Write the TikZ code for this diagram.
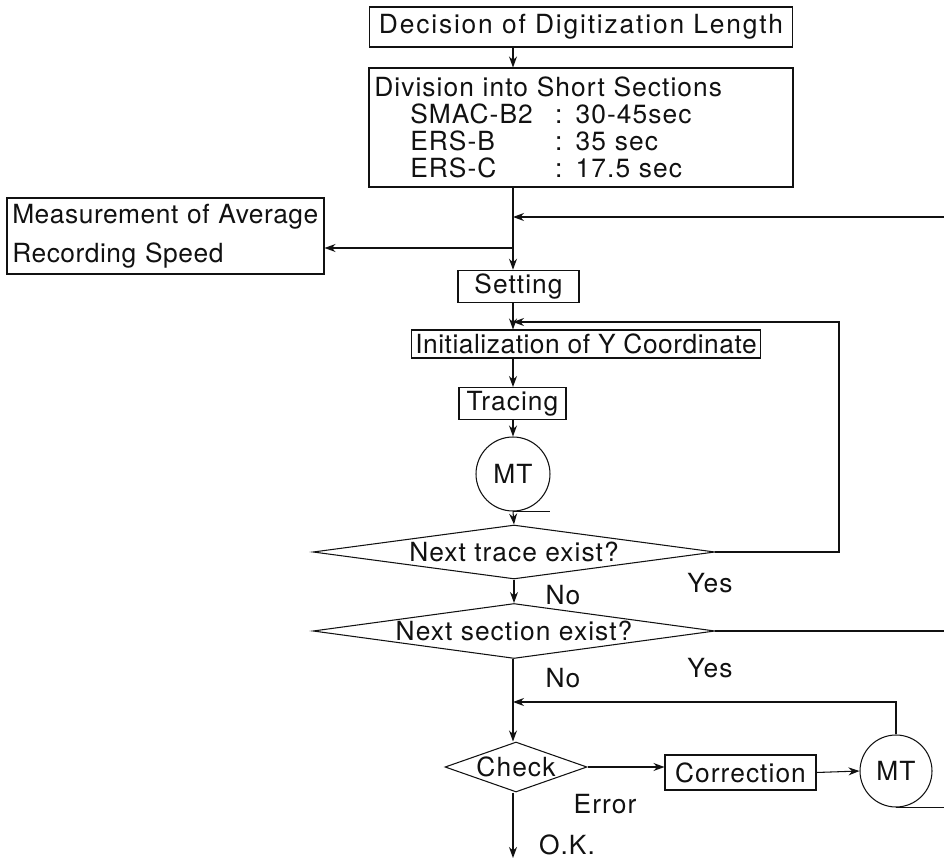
\documentclass[tikz,border=0pt]{standalone}
\usepackage{fontspec}
\setmainfont{TeX Gyre Heros}[LetterSpace=4]
\usepackage{tikz}
\usetikzlibrary{arrows.meta,positioning,shapes,calc}
\definecolor{ink}{HTML}{111111}
\newcommand{\flowfont}{\fontsize{15}{15.5}\selectfont}
\tikzset{
  procbox/.style ={draw=ink, line width=0.6pt, inner sep=2pt,
                   align=center, font=\flowfont, text=ink},
  textbox/.style ={draw=ink, line width=0.6pt, inner xsep=3pt, inner ysep=3pt,
                   align=left, font=\flowfont, text=ink},
  decbox/.style  ={draw=ink, line width=0.6pt, diamond, aspect=7.4,
                   inner sep=0pt, font=\flowfont, text=ink},
  tapebox/.style ={draw=ink, line width=0.6pt, circle, inner sep=0pt,
                   font=\flowfont, text=ink},
  flowarr/.style ={-{Stealth[length=2.2mm,width=1.6mm]}, line width=0.6pt, draw=ink},
  flowline/.style={line width=0.6pt, draw=ink},
  lbl/.style     ={font=\flowfont, text=ink, inner sep=0pt},
}

\begin{document}
\begin{tikzpicture}[x=0.02cm,y=-0.02cm]
    \useasboundingbox (0,0) rectangle (944,858);
    \coordinate (spine) at (513,0);

    \node[procbox,minimum width=8.48cm,minimum height=0.8cm,
          font=\flowfont\addfontfeatures{LetterSpace=7}] (decide) at (581,27) {Decision of Digitization Length};
    \node[textbox,text width=8.27cm,minimum height=2.38cm] (divide) at (581,127.5)
      {Division into Short Sections\\
       \hspace*{0.72cm}\makebox[2.9cm][l]{SMAC-B2}: 30-45sec\\
       \hspace*{0.72cm}\makebox[2.9cm][l]{ERS-B}: 35 sec\\
       \hspace*{0.72cm}\makebox[2.9cm][l]{ERS-C}: 17.5 sec};
    \node[textbox,text width=6.13cm,minimum height=1.52cm,
          font=\flowfont\addfontfeatures{LetterSpace=2}] (measure) at (165.5,236)
      {\mbox{Measurement of Average}\\[7pt]Recording Speed};
    \node[procbox,minimum width=2.42cm,minimum height=0.58cm] (setting) at (518.5,286.5) {Setting};
    \node[procbox,minimum width=6.72cm,minimum height=0.56cm,
          font=\flowfont\addfontfeatures{LetterSpace=2}] (init) at (586,344) {Initialization of Y Coordinate};
    \node[procbox,minimum width=2.14cm,minimum height=0.62cm] (tracing) at (512.5,403.5) {Tracing};
    \node[tapebox,minimum size=1.48cm] (mt1) at (513,474) {MT};
    \node[decbox,minimum width=8.04cm,minimum height=1.08cm] (trace) at (514,552) {Next trace exist?};
    \node[decbox,minimum width=8.04cm,minimum height=1.1cm] (section) at (514,631) {Next section exist?};
    \node[decbox,aspect=2.8,minimum width=2.84cm,minimum height=1.0cm] (check) at (516,767) {Check};
    \node[procbox,minimum width=3.02cm,minimum height=0.7cm] (correct) at (740.5,772.5) {Correction};
    \node[tapebox,minimum size=1.44cm] (mt2) at (896,771) {MT};

    % free ends and corners
    \coordinate (split) at (513,248);
    \coordinate (backin) at (944,217);
    \coordinate (loopin) at (513,322);
    \coordinate (loopright) at (839,552);
    \coordinate (backout) at (944,631);
    \coordinate (join) at (513,702);
    \coordinate (okout) at (513,858);

    \draw[flowarr] (decide.south -| spine) -- (divide.north -| spine);
    \draw[flowarr] (divide.south -| spine) -- (setting.north -| spine);
    \draw[flowarr] (split) -- (split -| measure.east);
    \draw[flowarr] (backin) -- (backin -| spine);
    \draw[flowarr] (setting.south -| spine) -- (init.north -| spine);
    \draw[flowarr] (trace.east) -- (loopright) |- (loopin);
    \draw[flowarr] (init.south -| spine) -- (tracing.north -| spine);
    \draw[flowarr] (tracing.south -| spine) -- (mt1.north);
    \draw[flowarr] (mt1.south) -- (trace.north);
    \draw[flowline] (mt1.south) -- ++(37,0);
    \draw[flowarr] (trace.south) -- (section.north);
    \draw[flowline] (section.east) -- (backout);
    \draw[flowarr] (section.south -| spine) -- (check.north -| spine);
    \draw[flowarr] (mt2.north) |- (join);
    \draw[flowarr] (check.east) -- (check.east -| correct.west);
    \draw[flowarr] (correct.east) -- (mt2.west);
    \draw[flowline] (mt2.south) -- (mt2.south -| backin);
    \draw[flowarr] (check.south -| spine) -- (okout);

    \node[lbl] (yes1) at (710,583) {Yes};
    \node[lbl] (no1) at (563,595) {No};
    \node[lbl] (yes2) at (710,668) {Yes};
    \node[lbl] (no2) at (563,678) {No};
    \node[lbl] (err) at (605,804) {Error};
    \node[lbl] (okay) at (567,845) {O.K.};
  \end{tikzpicture}
\end{document}
